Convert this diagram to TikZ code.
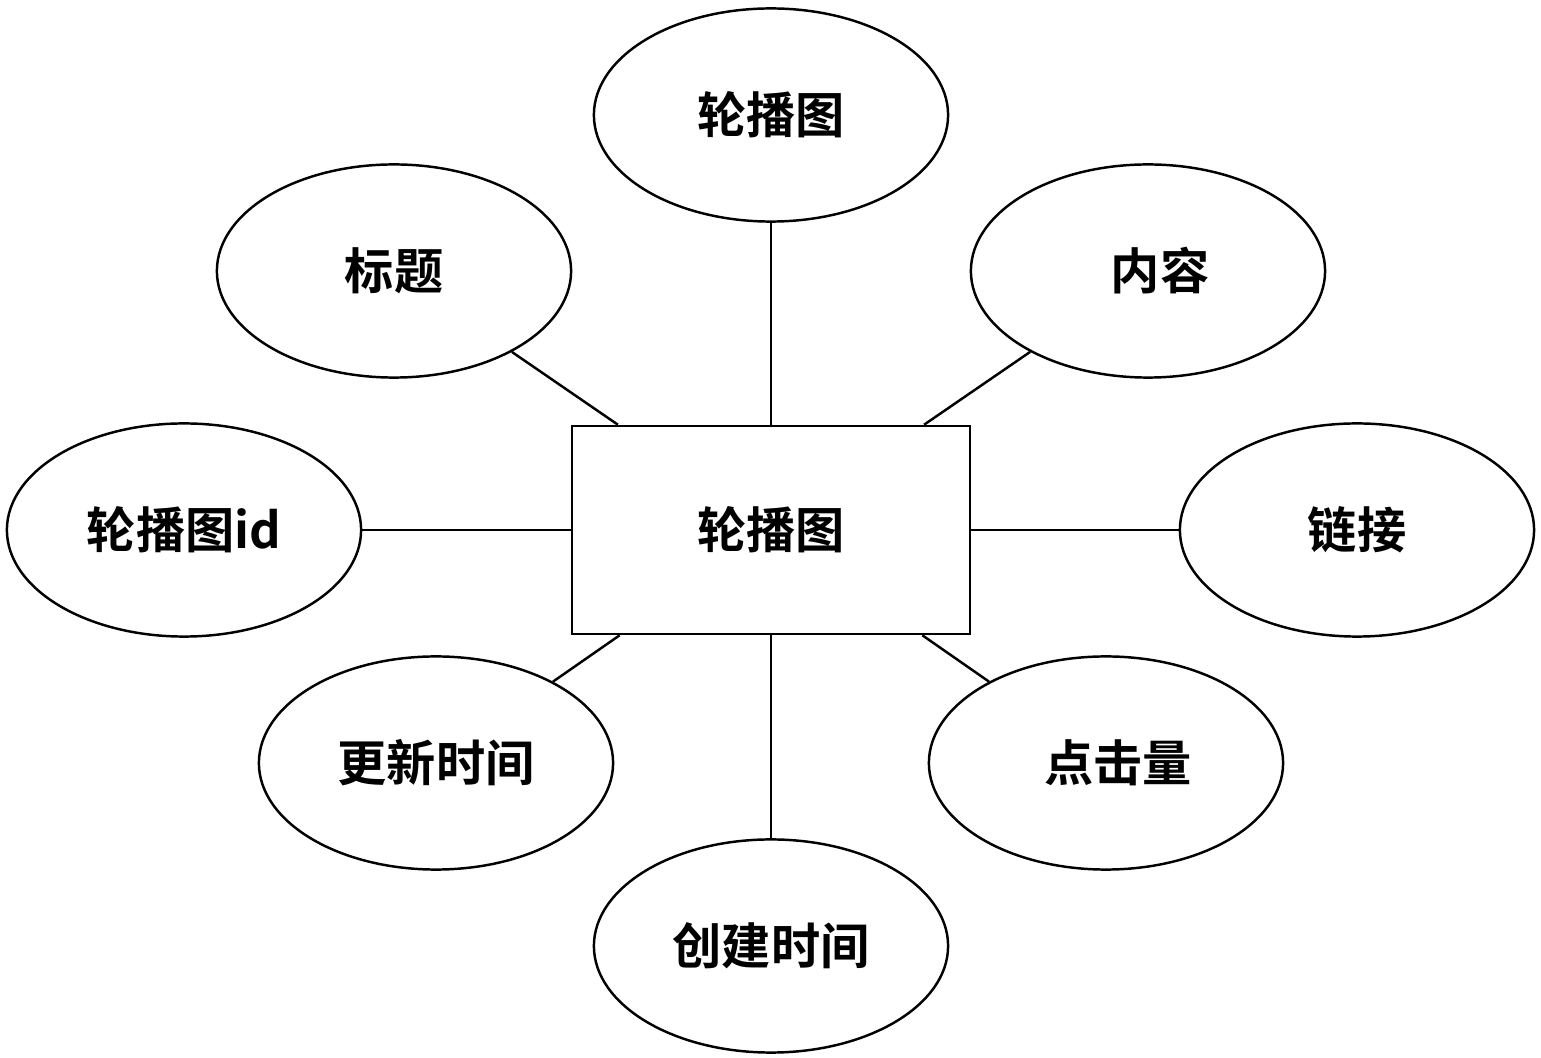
\documentclass[tikz,border=0pt]{standalone}
\usepackage{fontspec}
\newfontfamily\cjk{Noto Sans CJK SC}[BoldFont={Noto Sans CJK SC Bold}]
\usetikzlibrary{shapes.geometric}
\begin{document}
\begin{tikzpicture}[x=0.01cm,y=-0.01cm,
    attr/.style={draw, line width=0.7pt, ellipse, minimum width=3.54cm, minimum height=2.13cm, font=\cjk\bfseries\fontsize{14}{16}\selectfont, inner sep=0pt},
    entity/.style={draw, line width=0.7pt, rectangle, minimum width=3.98cm, minimum height=2.08cm, font=\cjk\bfseries\fontsize{14}{16}\selectfont},
    link/.style={line width=0.7pt}]

        \useasboundingbox (0,0) rectangle (1541,1058);

        \node[entity] (lbt) at (771,530) {轮播图};

        \node[attr] (name) at (771,115) {轮播图};
        \node[attr] (title) at (394,271) {标题};
        \node[attr] (content) at (1148,271) {\hspace{0.24cm}内容};
        \node[attr] (id) at (184,530) {轮播图id};
        \node[attr] (url) at (1357,530) {链接};
        \node[attr] (utime) at (436,763) {更新时间};
        \node[attr] (clicks) at (1106,763) {\hspace{0.24cm}点击量};
        \node[attr] (ctime) at (771,946) {创建时间};

        \foreach \a in {name,title,content,id,url,utime,clicks,ctime}
            \draw[link] (\a) -- (lbt);

\end{tikzpicture}
\end{document}
